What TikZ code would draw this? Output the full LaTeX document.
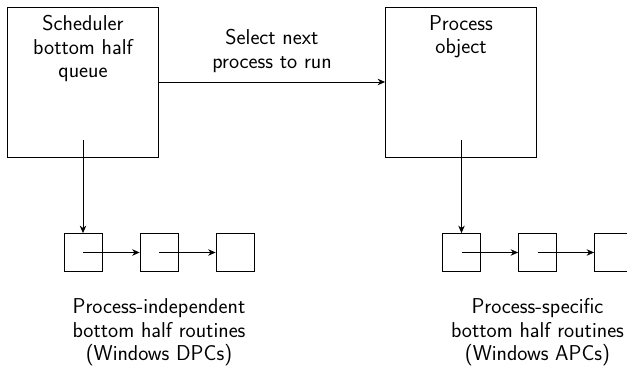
\documentclass[tikz,border=0pt]{standalone}
\usetikzlibrary{arrows.meta}
\begin{document}
\begin{tikzpicture}[x=1pt,y=-1pt,line width=0.8pt,
  bigbox/.style={draw,minimum width=151pt,minimum height=150pt,inner sep=0pt},
  cell/.style={draw,minimum width=38pt,minimum height=38pt,inner sep=0pt},
  txt/.style={font=\sffamily\fontsize{21.5}{23.5}\selectfont,align=center,inner sep=0pt},
  link/.style={-{Stealth[length=7.5pt,width=6.5pt]}}]
\useasboundingbox (0,0) rectangle (627,367);

% the two queues' owners
\node[bigbox] (sched) at (83,82) {};
\node[bigbox] (proc) at (461,82) {};
\node[txt,anchor=north] (schedtxt) at (83,15) {Scheduler\\bottom half\\queue};
\node[txt,anchor=north] (proctxt) at (461,15) {Process\\object};
\coordinate (schedtail) at (83,140);
\coordinate (proctail) at (461.5,140);

% linked lists of bottom halves
\node[cell] (l1) at (83,252.5) {};
\node[cell] (l2) at (159,252.5) {};
\node[cell] (l3) at (235,252.5) {};
\node[cell] (r1) at (461.5,252.5) {};
\node[cell] (r2) at (537.5,252.5) {};
\node[cell] (r3) at (613.5,252.5) {};

% connectors
\draw[link] (sched.east) -- node[txt,above=9pt] (seltxt) {Select next\\process to run} (proc.west);
\draw[link] (schedtail) -- (l1.north);
\draw[link] (l1.center) -- (l2.west);
\draw[link] (l2.center) -- (l3.west);
\draw[link] (proctail) -- (r1.north);
\draw[link] (r1.center) -- (r2.west);
\draw[link] (r2.center) -- (r3.west);

% captions
\node[txt,anchor=north] (ltxt) at (159,298.5) {Process-independent\\bottom half routines\\(Windows DPCs)};
\node[txt,anchor=north] (rtxt) at (537.5,298.5) {Process-specific\\bottom half routines\\(Windows APCs)};
\end{tikzpicture}
\end{document}
